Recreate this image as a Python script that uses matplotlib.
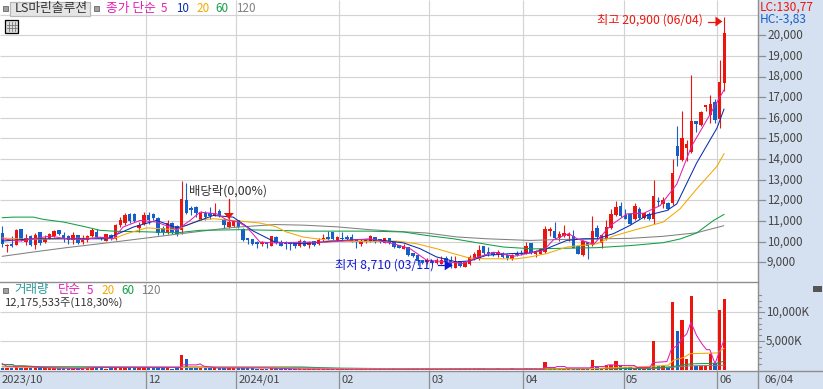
import numpy as np
import matplotlib
matplotlib.use("Agg")
import matplotlib.pyplot as plt
from matplotlib.patches import Rectangle, Polygon

plt.rcParams['font.family'] = ['Noto Sans CJK KR', 'DejaVu Sans']

W, H = 823, 389
open_ = [10420,9780,9870,9840,10590,9970,10260,9860,10450,9970,
 10140,10290,10580,10340,10270,10100,10300,9980,10080,10260,
 10450,10240,10030,10340,10140,10820,10900,11360,11330,10670,
 10850,11300,11320,11140,10670,10470,10910,10740,10550,12040,
 11590,11700,11030,11400,11380,11250,11510,11060,10710,10750,
 11030,10630,10140,10130,9980,9900,9970,9810,10220,10000,
 9980,9970,9920,9780,10050,9840,10020,9870,10130,10190,
 10470,10100,10160,10220,10220,10030,9900,10030,10030,10210,
 10110,9950,10180,10000,9820,9660,9730,9450,9360,9090,
 9020,9040,8970,8940,9210,9100,8730,9040,8780,8920,
 9180,9200,9780,9490,9490,9420,9450,9360,9170,9420,
 9470,9420,9920,9420,9420,9500,10510,10500,10160,10260,
 10270,10270,9780,9370,9970,9840,10640,9940,10140,10670,
 11270,11730,11300,11350,11080,11600,11140,11360,11080,11970,
 11830,11890,11860,14650,13940,14530,14340,15860,15660,16520,
 16150,16770,15940,17710]
high = [10740,9870,10260,10600,10600,10390,10300,10420,10450,10300,
 10420,10580,10580,10470,10300,10450,10300,10300,10340,10670,
 10630,10240,10350,10390,10870,11190,11400,11400,11380,10950,
 11430,11430,11380,11190,10740,11060,10950,10790,12950,12840,
 11750,11750,11480,11510,11670,11880,11590,11140,12020,11030,
 11060,10670,10140,10130,10020,10020,9970,10260,10260,10060,
 10020,9980,9950,10140,10100,10030,10050,10180,10350,10510,
 10470,10270,10450,10320,10390,10100,10110,10110,10300,10210,
 10110,10180,10180,10030,9820,9870,9730,9450,9360,9090,
 9230,9120,9230,9290,9290,9290,9290,9070,9040,9340,
 9500,9820,9780,9740,9520,9610,9520,9390,9410,9530,
 9580,9970,9920,9580,9710,10740,10710,10950,10500,10820,
 10470,10550,9780,10060,9970,11220,10790,10300,11060,11590,
 11990,11910,11590,11400,11860,11700,11410,11430,13000,12180,
 12180,11930,14000,15610,16340,14935,18080,15860,16350,16630,
 17110,16920,18810,20900]
low = [9740,9500,9740,9830,10030,9820,9780,9660,9820,9940,
 10110,10220,10300,9980,9900,9870,9890,9900,9980,10220,
 10180,10060,10020,10060,10100,10710,10820,10900,10950,10470,
 10790,10870,11030,10300,10300,10390,10390,10260,10390,11350,
 11270,11190,11030,11030,11110,11240,11190,10670,10670,10710,
 10670,10030,9870,9840,9700,9780,9710,9800,9870,9780,
 9660,9580,9710,9740,9780,9710,9810,9840,10030,10100,
 10060,10050,10030,10030,9970,9710,9810,9940,10000,9950,
 9920,9920,9900,9710,9700,9650,9290,9260,8860,8940,
 8940,8940,8940,8910,8970,8710,8720,8780,8750,8890,
 9130,9130,9340,9290,9290,9260,9230,9130,9100,9290,
 9360,9390,9420,9260,9390,9470,10260,10140,10020,10220,
 10020,9680,9390,9310,9150,9810,10190,9700,10100,10630,
 11240,11190,11080,10870,11030,11110,11120,11060,10870,11750,
 11620,11540,11790,13680,13890,13920,14290,15300,15610,16310,
 15770,15770,15500,17320]
close = [9870,9840,9780,10580,10100,10180,9820,10340,9940,10110,
 10350,10510,10350,10180,10100,10340,9920,10100,10270,10550,
 10210,10110,10350,10110,10790,11040,11270,10980,11000,10790,
 11270,11030,11140,10420,10470,10910,10480,10390,12090,11400,
 11540,11400,11400,11190,11240,11350,11240,10790,10950,10980,
 10710,10060,10100,9870,9870,9940,9870,10260,9940,9810,
 9900,9870,9780,10030,9810,9980,9840,10100,10180,10140,
 10110,10240,10130,10110,10000,10000,10030,10060,10270,9980,
 9970,10160,9940,9760,9700,9780,9330,9290,9050,8970,
 9130,8960,9130,9100,9000,8780,9070,8840,9000,9260,
 9390,9580,9470,9390,9340,9500,9260,9200,9370,9340,
 9390,9810,9450,9550,9650,10590,10590,10190,10390,10420,
 10390,9710,9390,10020,9780,10500,10240,10300,10690,11320,
 11700,11250,11110,10880,11730,11160,11410,11090,12230,11910,
 12020,11590,13340,14130,15030,14740,15860,15690,16270,16630,
 16680,15900,17740,20110]
volume_k = [350,320,300,400,330,280,300,260,290,250,
 260,220,200,180,200,240,190,230,210,230,
 250,180,170,190,200,300,240,210,190,200,
 260,190,180,230,180,220,170,190,2490,1790,
 520,330,280,240,230,240,260,300,190,180,
 200,350,250,180,170,150,170,190,180,160,
 150,170,140,170,150,140,150,170,160,150,
 170,140,150,130,160,130,140,130,150,130,
 130,140,120,180,160,170,240,210,300,200,
 190,150,170,160,150,220,240,180,190,210,
 200,220,180,170,150,190,160,170,180,170,
 160,180,190,180,190,1270,260,300,190,180,
 200,230,240,280,260,1620,420,300,750,870,
 1450,870,500,420,320,280,260,300,4910,580,
 690,350,11850,6650,8730,1790,12890,640,640,640,
 2660,1160,10460,12370]

ma5_i = [0,3.7,10.1,13.6,17.2,20.7,23.5,25.6,29.2,32.7,37,39.8,41.9,45.4,47.5,50,51.8,54.6,57.8,62.4,68.8,77.9,82.9,86.4,89.9,94.2,97.7,100.5,104.1,108.3,111.8,114.7,116.8,120,121.8,125.3,128.9,132.4,135.9,139.4,142.9,146,149.9,152.9]
ma5_v = [10140,10030,10270,10140,10100,10220,10140,10710,11030,10950,10580,11030,11430,11350,11060,10950,10710,9980,9940,9970,9980,10140,9900,9660,9100,9020,8940,9230,9490,9290,9450,9580,10100,10390,10140,9870,10790,11350,11380,11750,12790,14610,16150,17350]
ma10_i = [0,6.6,16.5,22.1,27.8,32.7,37,39,44.7,48.9,53.2,57.8,63.8,69.5,75.1,80.8,85,88.5,92,96.2,99.1,102.6,107.6,111.8,115.3,119.6,123.2,126,129.5,133,136.5,140.8,142.9,147.1,151.4,152.9]
ma10_v = [10030,10140,10140,10140,10710,11030,10670,10790,11270,11190,10510,9980,9900,10020,10100,10060,9940,9660,9260,9020,9070,9340,9420,9450,9660,10060,10140,10140,10390,10790,11270,11510,11830,13810,15500,16420]
ma20_i = [0,6,12.2,19.3,23.5,26.4,30.6,37,39,41.9,44.7,48.9,54.6,57.8,60.2,63.8,70.8,77.9,83.5,87.8,92,95.6,99.1,102.6,109,111.8,115.3,119.6,126,129.5,133.7,140,143.6,147.1,151.4,152.9]
ma20_v = [10180,10110,10140,10180,10140,10390,10670,10580,10790,11060,11110,11030,10900,10740,10470,10220,10020,10000,10030,9900,9660,9420,9200,9170,9170,9260,9420,9740,9900,10270,10550,10950,11590,12550,13650,14260]
ma60_i = [0,2.3,6.6,8.7,13,17.2,20.7,24.2,29.9,37,41.9,50.4,57.8,63.8,77.9,85,89.9,95.6,102.6,106.2,112.5,118.9,126,133,140,143.6,147.1,150.7,152.9]
ma60_v = [11160,11190,11190,11080,10950,10740,10550,10500,10480,10430,10550,10580,10550,10510,10510,10470,10300,10140,9870,9740,9650,9680,9710,9810,9950,10130,10420,11030,11320]
ma120_i = [0,6.6,13.6,20.7,27.8,34.8,41.9,48.9,57.8,63.8,70.8,77.9,83.5,89.9,96.2,102.6,111.8,118.9,133,140,147.1,152.8]
ma120_v = [9290,9500,9710,9900,10100,10300,10500,10690,10830,10800,10720,10580,10500,10420,10230,10140,10060,10110,10160,10260,10430,10770]

vma5_i = [0,0.9,4.5,8.3,16.4,19.3,37.8,38.2,41.2,41.9,42.7,45.4,56,63.4,114.7,114.8,117.1,117.5,119.2,119.6,124.5,124.9,127.4,128.4,130.2,130.5,134,134.4,137.2,137.8,140.8,141.8,142.9,144.3,145,145.9,147.1,148.2,149.2,149.9,151,151.9,152.9]
vma5_v = [1040,580,580,350,170,350,350,810,810,980,580,290,290,60,60,350,350,520,520,290,290,520,520,810,810,690,690,350,350,1210,1390,3640,4100,5660,6240,8260,5950,4510,3470,3470,1040,3060,5080]
vma20_i = [0,4.5,8.3,16.4,19.3,56,63.4,109.7,124.5,130.9,137.9,141.1,142.2,144.3,145.7,151.4,152.9]
vma20_v = [580,350,350,170,350,350,170,60,170,350,580,750,1620,2080,2770,2890,3700]
vma60_i = [0,2.3,2.5,4.5,8.3,37,63.4,73.6,84.2,109.7,136.5,141.5,145.7,151.4,152.9]
vma60_v = [870,870,640,640,460,350,290,230,120,60,230,460,980,1100,1450]
vma120_i = [0,37,63.4,73.6,109.7,138,141.1,145.7,152.9]
vma120_v = [460,460,460,115,115,170,350,640,750]

price_ticks = [9000,10000,11000,12000,13000,14000,15000,16000,17000,18000,19000,20000]
price_grid_extra = [21000]
vol_ticks = [5000,10000]
month_pos = [30.5,49.6,71.4,90.5,110.4,131.7,151.5]
month_labels = ['12','2024/01','02','03','04','05','06']

RED, BLUE = '#ea160e', '#1560c8'
M5, M10, M20, M60, M120 = '#e21fb4', '#0a2cb0', '#f2a900', '#0f9f45', '#808080'
GRID, PANEL, AXC, TXT = '#d3d3d3', '#d5e1f0', '#8e8e8e', '#444444'

fig = plt.figure(figsize=(W/100, H/100), dpi=100, facecolor='white')
def add(x0, y0, x1, y1, **k):
    return fig.add_axes([x0/W, 1-y1/H, (x1-x0)/W, (y1-y0)/H], **k)

xlim = (-2.3/4.72, (758-2.3)/4.72)
ax = add(0, 0, 758, 281)
av = add(0, 282, 758, 371)
ov = add(0, 0, W, H, zorder=-1)
fg = add(0, 0, W, H, zorder=10)
for a in (ov, fg):
    a.set_xlim(0, W); a.set_ylim(H, 0); a.axis('off')
fg.patch.set_alpha(0)
ax.set_zorder(2); av.set_zorder(2)
ov.add_patch(Rectangle((758, 0), 65, 389, fc=PANEL, ec='none'))
ov.add_patch(Rectangle((0, 371), 823, 18, fc=PANEL, ec='none'))

ax.set_xlim(*xlim); ax.set_ylim(8094, 21710)
av.set_xlim(*xlim); av.set_ylim(-260, 15300)

idx = np.arange(len(open_))
o, h, l, c, v = map(np.array, (open_, high, low, close, volume_k))
colors = np.where(c >= o, RED, BLUE)

for a in (ax, av):
    a.set_xticks([]); a.set_yticks([])
    for s in a.spines.values():
        s.set_visible(False)
    a.vlines(month_pos, *a.get_ylim(), color=GRID, lw=0.85, zorder=1)
ax.hlines(price_ticks + price_grid_extra, *xlim, color=GRID, lw=0.85, zorder=1)
av.hlines(vol_ticks, *xlim, color=GRID, lw=0.85, zorder=1)

ax.vlines(idx, l, h, colors=colors, lw=0.8, zorder=3)
ax.bar(idx, np.maximum(np.abs(c-o), 70), bottom=np.minimum(o, c), width=0.74, color=colors, lw=0, zorder=3)
av.bar(idx, v, width=0.74, color=colors, lw=0, zorder=3)

for xs, ys, col in [(ma120_i, ma120_v, M120), (ma60_i, ma60_v, M60), (ma20_i, ma20_v, M20),
                    (ma10_i, ma10_v, M10), (ma5_i, ma5_v, M5)]:
    ax.plot(xs, ys, color=col, lw=0.75, zorder=4, solid_joinstyle='round')
for xs, ys, col in [(vma120_i, vma120_v, M120), (vma60_i, vma60_v, M60), (vma20_i, vma20_v, M20), (vma5_i, vma5_v, M5)]:
    av.plot(xs, ys, color=col, lw=0.75, zorder=4)

fg.plot([0, 758], [281.5, 281.5], color=AXC, lw=1)
fg.plot([0, 823], [371, 371], color=AXC, lw=1)
fg.plot([758, 758], [0, 389], color=AXC, lw=1)

def to_px(a, i, p):
    X, Y = a.transData.transform((i, p))
    return X, H - Y

FS = 8.4
def T(x, y, s, col=TXT, fs=FS, **k):
    fg.text(x, y, s, color=col, fontsize=fs, va='center', ha=k.pop('ha', 'left'), **k)

for p in price_ticks:
    _, y = to_px(ax, 0, p)
    fg.plot([758, 765], [y, y], color=AXC, lw=0.9)
    T(767, y, f'{p:,}')
for t in np.arange(1000, 14000, 1000):
    _, y = to_px(av, 0, t)
    major = t in vol_ticks
    fg.plot([758, 764 if major else 761], [y, y], color=AXC, lw=0.8)
for t in vol_ticks:
    _, y = to_px(av, 0, t)
    T(766, y, f'{t:,}K')
T(760, 7, 'LC:130,77', RED, fs=8.6)
T(760, 19, 'HC:-3,83', BLUE, fs=8.6)
fg.add_patch(Rectangle((813, 286), 9, 6, fc='#555555', ec='none'))

T(2, 380, '2023/10', fs=8.0)
for m, lab in zip(month_pos, month_labels):
    x, _ = to_px(ax, m, 0)
    fg.plot([x, x], [371, 389], color=AXC, lw=0.9)
    T(x + 2, 380, lab, fs=8.0)
T(765, 380, '06/04', fs=8.0)

def sq(x, y):
    fg.add_patch(Rectangle((x-2.5, y-2.5), 5, 5, fc='#a0a0a0', ec='#666666', lw=0.6))
sq(5.5, 8)
fg.add_patch(Rectangle((10.5, 1.5), 80, 14, fc='#e5e5e5', ec='#b8b8b8', lw=0.9))
T(15, 8.5, 'LS마린솔루션', '#333333', fs=9.2)
sq(96.5, 8)
T(106, 8, '종가 단순', M5, fs=9.2)
for x, s, col in [(161, '5', M5), (176, '10', M10), (196, '20', M20), (215, '60', M60), (236, '120', M120)]:
    T(x, 8, s, col)
sq(5.5, 290)
T(14, 290, '거래량', '#2a9a9a', fs=9.0)
T(58, 290, '단순', M5, fs=9.0)
for x, s, col in [(87, '5', M5), (101, '20', M20), (121, '60', M60), (141, '120', M120)]:
    T(x, 290, s, col)
T(5, 303, '12,175,533주(118,30%)', '#333333', fs=8.1)

fg.add_patch(Rectangle((5.5, 19.5), 13, 13, fc='#dddddd', ec='black', lw=0.9))
for d in (9.5, 12.5, 15.5):
    fg.plot([d, d], [22, 31], color='#777777', lw=0.6)
for d in (24.5, 28):
    fg.plot([7, 17], [d, d], color='#777777', lw=0.6)

x48, y48 = to_px(ax, 48, h[48])
T(189, 191, '배당락(0,00%)', '#333333', fs=8.9)
fg.plot([x48, x48], [199, 213], color=RED, lw=0.9)
fg.add_patch(Polygon([(x48-5, 213), (x48+5, 213), (x48, 219)], fc=RED, ec='none'))

x95, y95 = to_px(ax, 95, l[95])
T(335, 265, '최저 8,710 (03/11)', '#1018d8', fs=8.8)
fg.plot([x95-13, x95-4], [y95-3, y95-3], color='#1018d8', lw=0.9)
fg.add_patch(Polygon([(x95-6, y95-8), (x95-6, y95+2), (x95+2, y95-3)], fc='#1018d8', ec='none'))

xh, yh = to_px(ax, 153, h[153])
T(597, 20.5, '최고 20,900 (06/04)', RED, fs=8.8)
fg.plot([xh-16, xh-7], [21.5, 21.5], color=RED, lw=0.9)
fg.add_patch(Polygon([(xh-9, 16.5), (xh-9, 26.5), (xh-2, 21.5)], fc=RED, ec='none'))

fig.savefig('out.png', dpi=100)
